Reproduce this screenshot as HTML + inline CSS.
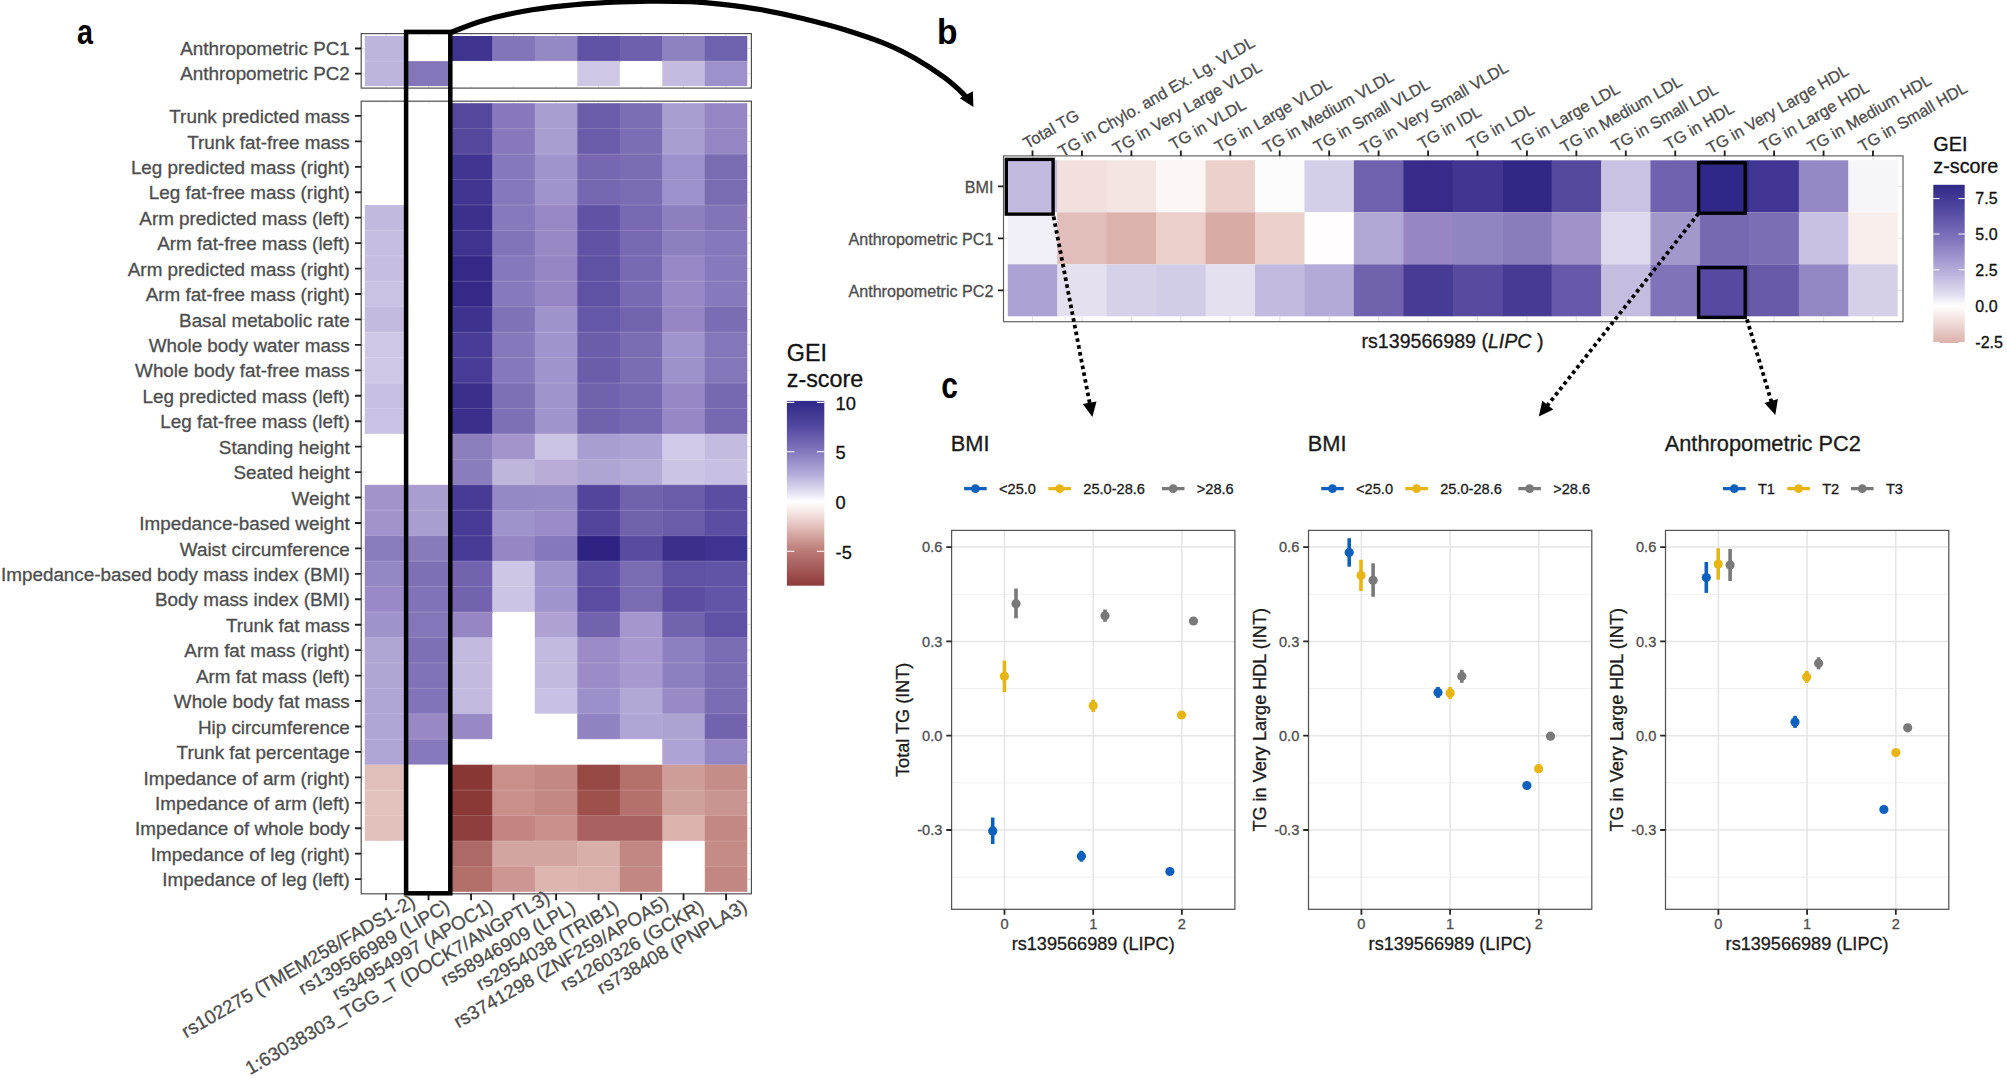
<!DOCTYPE html>
<html lang="en">
<head>
<meta charset="utf-8">
<title>GEI z-score heatmaps and stratified genotype effects</title>
<style>
html,body{margin:0;padding:0;background:#fff;}
body{width:2007px;height:1078px;overflow:hidden;}
svg{display:block;font-family:"Liberation Sans",sans-serif;}
</style>
</head>
<body>
<svg width="2007" height="1078" viewBox="0 0 2007 1078">
<rect width="2007" height="1078" fill="#fff"/>
<g id="panel-a">
<rect x="361.2" y="33.6" width="390.2" height="54.5" fill="#fff" stroke="none"/>
<path d="M386.05,33.6V36.00M386.05,86.10V88.1M428.55,33.6V36.00M428.55,86.10V88.1M471.05,33.6V36.00M471.05,86.10V88.1M513.55,33.6V36.00M513.55,86.10V88.1M556.05,33.6V36.00M556.05,86.10V88.1M598.55,33.6V36.00M598.55,86.10V88.1M641.05,33.6V36.00M641.05,86.10V88.1M683.55,33.6V36.00M683.55,86.10V88.1M726.05,33.6V36.00M726.05,86.10V88.1M361.2,48.52H364.80M747.30,48.52H751.4M361.2,73.58H364.80M747.30,73.58H751.4" stroke="#E4E4E4" stroke-width="1.1" fill="none"/>
<rect x="364.80" y="36.00" width="42.50" height="25.65" fill="#BDB5DC"/>
<rect x="449.80" y="36.00" width="43.00" height="25.05" fill="#3E348F"/>
<rect x="492.30" y="36.00" width="43.00" height="25.05" fill="#8375B8"/>
<rect x="534.80" y="36.00" width="43.00" height="25.05" fill="#9688C4"/>
<rect x="577.30" y="36.00" width="43.00" height="25.65" fill="#6053A4"/>
<rect x="619.80" y="36.00" width="43.00" height="25.05" fill="#6E60AD"/>
<rect x="662.30" y="36.00" width="43.00" height="25.65" fill="#8E81BF"/>
<rect x="704.80" y="36.00" width="42.50" height="25.65" fill="#6E61AE"/>
<rect x="364.80" y="61.05" width="43.00" height="25.05" fill="#BDB5DC"/>
<rect x="407.30" y="61.05" width="42.50" height="25.05" fill="#8575B9"/>
<rect x="577.30" y="61.05" width="42.50" height="25.05" fill="#CEC7E5"/>
<rect x="662.30" y="61.05" width="43.00" height="25.05" fill="#C4BBDF"/>
<rect x="704.80" y="61.05" width="42.50" height="25.05" fill="#9E90CA"/>
<path d="M364.80,61.05h382.50" stroke="#fff" stroke-opacity="0.16" stroke-width="1" fill="none"/>
<rect x="361.2" y="33.6" width="390.2" height="54.5" fill="none" stroke="#505050" stroke-width="1.2"/>
<rect x="361.2" y="101.2" width="390.2" height="792.6" fill="#fff" stroke="none"/>
<path d="M386.05,101.2V103.20M386.05,891.84V893.8M428.55,101.2V103.20M428.55,891.84V893.8M471.05,101.2V103.20M471.05,891.84V893.8M513.55,101.2V103.20M513.55,891.84V893.8M556.05,101.2V103.20M556.05,891.84V893.8M598.55,101.2V103.20M598.55,891.84V893.8M641.05,101.2V103.20M641.05,891.84V893.8M683.55,101.2V103.20M683.55,891.84V893.8M726.05,101.2V103.20M726.05,891.84V893.8M361.2,115.92H364.80M747.30,115.92H751.4M361.2,141.36H364.80M747.30,141.36H751.4M361.2,166.80H364.80M747.30,166.80H751.4M361.2,192.24H364.80M747.30,192.24H751.4M361.2,217.68H364.80M747.30,217.68H751.4M361.2,243.12H364.80M747.30,243.12H751.4M361.2,268.56H364.80M747.30,268.56H751.4M361.2,294.00H364.80M747.30,294.00H751.4M361.2,319.44H364.80M747.30,319.44H751.4M361.2,344.88H364.80M747.30,344.88H751.4M361.2,370.32H364.80M747.30,370.32H751.4M361.2,395.76H364.80M747.30,395.76H751.4M361.2,421.20H364.80M747.30,421.20H751.4M361.2,446.64H364.80M747.30,446.64H751.4M361.2,472.08H364.80M747.30,472.08H751.4M361.2,497.52H364.80M747.30,497.52H751.4M361.2,522.96H364.80M747.30,522.96H751.4M361.2,548.40H364.80M747.30,548.40H751.4M361.2,573.84H364.80M747.30,573.84H751.4M361.2,599.28H364.80M747.30,599.28H751.4M361.2,624.72H364.80M747.30,624.72H751.4M361.2,650.16H364.80M747.30,650.16H751.4M361.2,675.60H364.80M747.30,675.60H751.4M361.2,701.04H364.80M747.30,701.04H751.4M361.2,726.48H364.80M747.30,726.48H751.4M361.2,751.92H364.80M747.30,751.92H751.4M361.2,777.36H364.80M747.30,777.36H751.4M361.2,802.80H364.80M747.30,802.80H751.4M361.2,828.24H364.80M747.30,828.24H751.4M361.2,853.68H364.80M747.30,853.68H751.4M361.2,879.12H364.80M747.30,879.12H751.4" stroke="#E4E4E4" stroke-width="1.1" fill="none"/>
<rect x="449.80" y="103.20" width="43.00" height="26.04" fill="#54479C"/>
<rect x="492.30" y="103.20" width="43.00" height="26.04" fill="#8878BB"/>
<rect x="534.80" y="103.20" width="43.00" height="26.04" fill="#AA9DD0"/>
<rect x="577.30" y="103.20" width="43.00" height="26.04" fill="#6B5CA9"/>
<rect x="619.80" y="103.20" width="43.00" height="26.04" fill="#7C6DB4"/>
<rect x="662.30" y="103.20" width="43.00" height="26.04" fill="#AA9DD0"/>
<rect x="704.80" y="103.20" width="42.50" height="26.04" fill="#9585C3"/>
<rect x="449.80" y="128.64" width="43.00" height="26.04" fill="#54479C"/>
<rect x="492.30" y="128.64" width="43.00" height="26.04" fill="#8878BB"/>
<rect x="534.80" y="128.64" width="43.00" height="26.04" fill="#AA9DD0"/>
<rect x="577.30" y="128.64" width="43.00" height="26.04" fill="#6B5CA9"/>
<rect x="619.80" y="128.64" width="43.00" height="26.04" fill="#7C6DB4"/>
<rect x="662.30" y="128.64" width="43.00" height="26.04" fill="#AA9DD0"/>
<rect x="704.80" y="128.64" width="42.50" height="26.04" fill="#9585C3"/>
<rect x="449.80" y="154.08" width="43.00" height="26.04" fill="#403591"/>
<rect x="492.30" y="154.08" width="43.00" height="26.04" fill="#8778BB"/>
<rect x="534.80" y="154.08" width="43.00" height="26.04" fill="#A193CB"/>
<rect x="577.30" y="154.08" width="43.00" height="26.04" fill="#7767B1"/>
<rect x="619.80" y="154.08" width="43.00" height="26.04" fill="#7B6CB4"/>
<rect x="662.30" y="154.08" width="43.00" height="26.04" fill="#9E90CA"/>
<rect x="704.80" y="154.08" width="42.50" height="26.04" fill="#7A6BB3"/>
<rect x="449.80" y="179.52" width="43.00" height="26.04" fill="#403591"/>
<rect x="492.30" y="179.52" width="43.00" height="26.04" fill="#8778BB"/>
<rect x="534.80" y="179.52" width="43.00" height="26.04" fill="#A193CB"/>
<rect x="577.30" y="179.52" width="43.00" height="26.04" fill="#7767B1"/>
<rect x="619.80" y="179.52" width="43.00" height="26.04" fill="#7B6CB4"/>
<rect x="662.30" y="179.52" width="43.00" height="26.04" fill="#9E90CA"/>
<rect x="704.80" y="179.52" width="42.50" height="26.04" fill="#7A6BB3"/>
<rect x="364.80" y="204.96" width="42.50" height="26.04" fill="#C2B9DF"/>
<rect x="449.80" y="204.96" width="43.00" height="26.04" fill="#3C308D"/>
<rect x="492.30" y="204.96" width="43.00" height="26.04" fill="#8779BB"/>
<rect x="534.80" y="204.96" width="43.00" height="26.04" fill="#9888C4"/>
<rect x="577.30" y="204.96" width="43.00" height="26.04" fill="#6152A5"/>
<rect x="619.80" y="204.96" width="43.00" height="26.04" fill="#7968B2"/>
<rect x="662.30" y="204.96" width="43.00" height="26.04" fill="#8E80BF"/>
<rect x="704.80" y="204.96" width="42.50" height="26.04" fill="#8374B8"/>
<rect x="364.80" y="230.40" width="42.50" height="26.04" fill="#C6BEE2"/>
<rect x="449.80" y="230.40" width="43.00" height="26.04" fill="#3E3490"/>
<rect x="492.30" y="230.40" width="43.00" height="26.04" fill="#8373B8"/>
<rect x="534.80" y="230.40" width="43.00" height="26.04" fill="#9888C4"/>
<rect x="577.30" y="230.40" width="43.00" height="26.04" fill="#6152A5"/>
<rect x="619.80" y="230.40" width="43.00" height="26.04" fill="#7968B2"/>
<rect x="662.30" y="230.40" width="43.00" height="26.04" fill="#8E80BF"/>
<rect x="704.80" y="230.40" width="42.50" height="26.04" fill="#8778BB"/>
<rect x="364.80" y="255.84" width="42.50" height="26.04" fill="#C6BDE1"/>
<rect x="449.80" y="255.84" width="43.00" height="26.04" fill="#342987"/>
<rect x="492.30" y="255.84" width="43.00" height="26.04" fill="#8777BB"/>
<rect x="534.80" y="255.84" width="43.00" height="26.04" fill="#9586C3"/>
<rect x="577.30" y="255.84" width="43.00" height="26.04" fill="#5F51A3"/>
<rect x="619.80" y="255.84" width="43.00" height="26.04" fill="#7969B2"/>
<rect x="662.30" y="255.84" width="43.00" height="26.04" fill="#9888C6"/>
<rect x="704.80" y="255.84" width="42.50" height="26.04" fill="#8878BC"/>
<rect x="364.80" y="281.28" width="42.50" height="26.04" fill="#CAC2E3"/>
<rect x="449.80" y="281.28" width="43.00" height="26.04" fill="#342987"/>
<rect x="492.30" y="281.28" width="43.00" height="26.04" fill="#8878BC"/>
<rect x="534.80" y="281.28" width="43.00" height="26.04" fill="#9586C3"/>
<rect x="577.30" y="281.28" width="43.00" height="26.04" fill="#5F51A3"/>
<rect x="619.80" y="281.28" width="43.00" height="26.04" fill="#7969B2"/>
<rect x="662.30" y="281.28" width="43.00" height="26.04" fill="#9888C6"/>
<rect x="704.80" y="281.28" width="42.50" height="26.04" fill="#8878BC"/>
<rect x="364.80" y="306.72" width="42.50" height="26.04" fill="#C3BAE0"/>
<rect x="449.80" y="306.72" width="43.00" height="26.04" fill="#3D328E"/>
<rect x="492.30" y="306.72" width="43.00" height="26.04" fill="#8172B7"/>
<rect x="534.80" y="306.72" width="43.00" height="26.04" fill="#A092CA"/>
<rect x="577.30" y="306.72" width="43.00" height="26.04" fill="#6557A7"/>
<rect x="619.80" y="306.72" width="43.00" height="26.04" fill="#7464AF"/>
<rect x="662.30" y="306.72" width="43.00" height="26.04" fill="#9686C4"/>
<rect x="704.80" y="306.72" width="42.50" height="26.04" fill="#7B6CB4"/>
<rect x="364.80" y="332.16" width="42.50" height="26.04" fill="#CFC7E6"/>
<rect x="449.80" y="332.16" width="43.00" height="26.04" fill="#483C96"/>
<rect x="492.30" y="332.16" width="43.00" height="26.04" fill="#8778BB"/>
<rect x="534.80" y="332.16" width="43.00" height="26.04" fill="#A193CB"/>
<rect x="577.30" y="332.16" width="43.00" height="26.04" fill="#6C5DAB"/>
<rect x="619.80" y="332.16" width="43.00" height="26.04" fill="#7B6CB4"/>
<rect x="662.30" y="332.16" width="43.00" height="26.04" fill="#A193CB"/>
<rect x="704.80" y="332.16" width="42.50" height="26.04" fill="#8576BA"/>
<rect x="364.80" y="357.60" width="42.50" height="26.04" fill="#CFC7E6"/>
<rect x="449.80" y="357.60" width="43.00" height="26.04" fill="#483C96"/>
<rect x="492.30" y="357.60" width="43.00" height="26.04" fill="#8778BB"/>
<rect x="534.80" y="357.60" width="43.00" height="26.04" fill="#A193CB"/>
<rect x="577.30" y="357.60" width="43.00" height="26.04" fill="#6C5DAB"/>
<rect x="619.80" y="357.60" width="43.00" height="26.04" fill="#7B6CB4"/>
<rect x="662.30" y="357.60" width="43.00" height="26.04" fill="#9F91CA"/>
<rect x="704.80" y="357.60" width="42.50" height="26.04" fill="#8576BA"/>
<rect x="364.80" y="383.04" width="42.50" height="26.04" fill="#C8C0E3"/>
<rect x="449.80" y="383.04" width="43.00" height="26.04" fill="#3B2F8C"/>
<rect x="492.30" y="383.04" width="43.00" height="26.04" fill="#7F70B5"/>
<rect x="534.80" y="383.04" width="43.00" height="26.04" fill="#A193CB"/>
<rect x="577.30" y="383.04" width="43.00" height="26.04" fill="#7262AE"/>
<rect x="619.80" y="383.04" width="43.00" height="26.04" fill="#7868B1"/>
<rect x="662.30" y="383.04" width="43.00" height="26.04" fill="#9787C5"/>
<rect x="704.80" y="383.04" width="42.50" height="26.04" fill="#7868B1"/>
<rect x="364.80" y="408.48" width="42.50" height="25.44" fill="#CAC2E4"/>
<rect x="449.80" y="408.48" width="43.00" height="26.04" fill="#3B2F8C"/>
<rect x="492.30" y="408.48" width="43.00" height="26.04" fill="#7F70B5"/>
<rect x="534.80" y="408.48" width="43.00" height="26.04" fill="#A193CB"/>
<rect x="577.30" y="408.48" width="43.00" height="26.04" fill="#7262AE"/>
<rect x="619.80" y="408.48" width="43.00" height="26.04" fill="#7868B1"/>
<rect x="662.30" y="408.48" width="43.00" height="26.04" fill="#9787C5"/>
<rect x="704.80" y="408.48" width="42.50" height="26.04" fill="#7868B1"/>
<rect x="449.80" y="433.92" width="43.00" height="26.04" fill="#8D7EBE"/>
<rect x="492.30" y="433.92" width="43.00" height="26.04" fill="#A395CC"/>
<rect x="534.80" y="433.92" width="43.00" height="26.04" fill="#CCC4E5"/>
<rect x="577.30" y="433.92" width="43.00" height="26.04" fill="#AA9DD0"/>
<rect x="619.80" y="433.92" width="43.00" height="26.04" fill="#AEA1D3"/>
<rect x="662.30" y="433.92" width="43.00" height="26.04" fill="#D1CAE8"/>
<rect x="704.80" y="433.92" width="42.50" height="26.04" fill="#C4BCE0"/>
<rect x="449.80" y="459.36" width="43.00" height="26.04" fill="#8B7DBD"/>
<rect x="492.30" y="459.36" width="43.00" height="26.04" fill="#C0B6DC"/>
<rect x="534.80" y="459.36" width="43.00" height="26.04" fill="#B8ACD7"/>
<rect x="577.30" y="459.36" width="43.00" height="26.04" fill="#B0A4D2"/>
<rect x="619.80" y="459.36" width="43.00" height="26.04" fill="#B6AAD6"/>
<rect x="662.30" y="459.36" width="43.00" height="26.04" fill="#CBC4E4"/>
<rect x="704.80" y="459.36" width="42.50" height="26.04" fill="#C8C0E2"/>
<rect x="364.80" y="484.80" width="43.00" height="26.04" fill="#A293CB"/>
<rect x="407.30" y="484.80" width="43.00" height="26.04" fill="#AA9DD0"/>
<rect x="449.80" y="484.80" width="43.00" height="26.04" fill="#483B96"/>
<rect x="492.30" y="484.80" width="43.00" height="26.04" fill="#9688C4"/>
<rect x="534.80" y="484.80" width="43.00" height="26.04" fill="#9789C4"/>
<rect x="577.30" y="484.80" width="43.00" height="26.04" fill="#52459B"/>
<rect x="619.80" y="484.80" width="43.00" height="26.04" fill="#7262AE"/>
<rect x="662.30" y="484.80" width="43.00" height="26.04" fill="#6B5CAA"/>
<rect x="704.80" y="484.80" width="42.50" height="26.04" fill="#5B4DA2"/>
<rect x="364.80" y="510.24" width="43.00" height="26.04" fill="#A293CB"/>
<rect x="407.30" y="510.24" width="43.00" height="26.04" fill="#AA9DD0"/>
<rect x="449.80" y="510.24" width="43.00" height="26.04" fill="#483B96"/>
<rect x="492.30" y="510.24" width="43.00" height="26.04" fill="#A092CA"/>
<rect x="534.80" y="510.24" width="43.00" height="26.04" fill="#9A8BC6"/>
<rect x="577.30" y="510.24" width="43.00" height="26.04" fill="#52459B"/>
<rect x="619.80" y="510.24" width="43.00" height="26.04" fill="#7262AE"/>
<rect x="662.30" y="510.24" width="43.00" height="26.04" fill="#6B5CAA"/>
<rect x="704.80" y="510.24" width="42.50" height="26.04" fill="#5B4DA2"/>
<rect x="364.80" y="535.68" width="43.00" height="26.04" fill="#8A7BBD"/>
<rect x="407.30" y="535.68" width="43.00" height="26.04" fill="#897ABB"/>
<rect x="449.80" y="535.68" width="43.00" height="26.04" fill="#483B96"/>
<rect x="492.30" y="535.68" width="43.00" height="26.04" fill="#9687C4"/>
<rect x="534.80" y="535.68" width="43.00" height="26.04" fill="#8777BB"/>
<rect x="577.30" y="535.68" width="43.00" height="26.04" fill="#2E2382"/>
<rect x="619.80" y="535.68" width="43.00" height="26.04" fill="#594B9F"/>
<rect x="662.30" y="535.68" width="43.00" height="26.04" fill="#3B2F8B"/>
<rect x="704.80" y="535.68" width="42.50" height="26.04" fill="#3E3390"/>
<rect x="364.80" y="561.12" width="43.00" height="26.04" fill="#9586C4"/>
<rect x="407.30" y="561.12" width="43.00" height="26.04" fill="#7F70B6"/>
<rect x="449.80" y="561.12" width="43.00" height="26.04" fill="#7363AE"/>
<rect x="492.30" y="561.12" width="43.00" height="26.04" fill="#CEC6E5"/>
<rect x="534.80" y="561.12" width="43.00" height="26.04" fill="#A193CB"/>
<rect x="577.30" y="561.12" width="43.00" height="26.04" fill="#5C4EA2"/>
<rect x="619.80" y="561.12" width="43.00" height="26.04" fill="#7A6BB3"/>
<rect x="662.30" y="561.12" width="43.00" height="26.04" fill="#5F51A3"/>
<rect x="704.80" y="561.12" width="42.50" height="26.04" fill="#6254A5"/>
<rect x="364.80" y="586.56" width="43.00" height="26.04" fill="#9989C6"/>
<rect x="407.30" y="586.56" width="43.00" height="26.04" fill="#8272B8"/>
<rect x="449.80" y="586.56" width="43.00" height="26.04" fill="#7363AE"/>
<rect x="492.30" y="586.56" width="43.00" height="25.44" fill="#CCC4E4"/>
<rect x="534.80" y="586.56" width="43.00" height="26.04" fill="#A193CB"/>
<rect x="577.30" y="586.56" width="43.00" height="26.04" fill="#5B4CA2"/>
<rect x="619.80" y="586.56" width="43.00" height="26.04" fill="#7A6BB3"/>
<rect x="662.30" y="586.56" width="43.00" height="26.04" fill="#5C4DA2"/>
<rect x="704.80" y="586.56" width="42.50" height="26.04" fill="#6254A6"/>
<rect x="364.80" y="612.00" width="43.00" height="26.04" fill="#A092CA"/>
<rect x="407.30" y="612.00" width="43.00" height="26.04" fill="#8575B9"/>
<rect x="449.80" y="612.00" width="42.50" height="26.04" fill="#9686C4"/>
<rect x="534.80" y="612.00" width="43.00" height="26.04" fill="#AFA2D3"/>
<rect x="577.30" y="612.00" width="43.00" height="26.04" fill="#7363AE"/>
<rect x="619.80" y="612.00" width="43.00" height="26.04" fill="#A597CE"/>
<rect x="662.30" y="612.00" width="43.00" height="26.04" fill="#7263AF"/>
<rect x="704.80" y="612.00" width="42.50" height="26.04" fill="#5F51A4"/>
<rect x="364.80" y="637.44" width="43.00" height="26.04" fill="#B1A5D4"/>
<rect x="407.30" y="637.44" width="43.00" height="26.04" fill="#7F70B6"/>
<rect x="449.80" y="637.44" width="42.50" height="26.04" fill="#C3BADF"/>
<rect x="534.80" y="637.44" width="43.00" height="26.04" fill="#C3BADF"/>
<rect x="577.30" y="637.44" width="43.00" height="26.04" fill="#9B8CC7"/>
<rect x="619.80" y="637.44" width="43.00" height="26.04" fill="#A799CF"/>
<rect x="662.30" y="637.44" width="43.00" height="26.04" fill="#8E80C0"/>
<rect x="704.80" y="637.44" width="42.50" height="26.04" fill="#7B6CB4"/>
<rect x="364.80" y="662.88" width="43.00" height="26.04" fill="#B1A5D4"/>
<rect x="407.30" y="662.88" width="43.00" height="26.04" fill="#8272B8"/>
<rect x="449.80" y="662.88" width="42.50" height="26.04" fill="#C3BADF"/>
<rect x="534.80" y="662.88" width="43.00" height="26.04" fill="#C3BADF"/>
<rect x="577.30" y="662.88" width="43.00" height="26.04" fill="#9B8CC7"/>
<rect x="619.80" y="662.88" width="43.00" height="26.04" fill="#A799CF"/>
<rect x="662.30" y="662.88" width="43.00" height="26.04" fill="#8E80C0"/>
<rect x="704.80" y="662.88" width="42.50" height="26.04" fill="#7B6CB4"/>
<rect x="364.80" y="688.32" width="43.00" height="26.04" fill="#B1A5D5"/>
<rect x="407.30" y="688.32" width="43.00" height="26.04" fill="#8373B8"/>
<rect x="449.80" y="688.32" width="42.50" height="26.04" fill="#C3BADF"/>
<rect x="534.80" y="688.32" width="43.00" height="25.44" fill="#C9C1E3"/>
<rect x="577.30" y="688.32" width="43.00" height="26.04" fill="#9D8FC9"/>
<rect x="619.80" y="688.32" width="43.00" height="26.04" fill="#B3A7D5"/>
<rect x="662.30" y="688.32" width="43.00" height="26.04" fill="#998AC6"/>
<rect x="704.80" y="688.32" width="42.50" height="26.04" fill="#7B6CB4"/>
<rect x="364.80" y="713.76" width="43.00" height="26.04" fill="#B1A5D5"/>
<rect x="407.30" y="713.76" width="43.00" height="26.04" fill="#9889C5"/>
<rect x="449.80" y="713.76" width="42.50" height="25.44" fill="#9889C5"/>
<rect x="577.30" y="713.76" width="43.00" height="25.44" fill="#9183C2"/>
<rect x="619.80" y="713.76" width="43.00" height="25.44" fill="#B1A5D5"/>
<rect x="662.30" y="713.76" width="43.00" height="26.04" fill="#AEA2D3"/>
<rect x="704.80" y="713.76" width="42.50" height="26.04" fill="#7263AF"/>
<rect x="364.80" y="739.20" width="43.00" height="26.04" fill="#B1A5D5"/>
<rect x="407.30" y="739.20" width="42.50" height="25.44" fill="#8878BC"/>
<rect x="662.30" y="739.20" width="43.00" height="26.04" fill="#AFA3D6"/>
<rect x="704.80" y="739.20" width="42.50" height="26.04" fill="#9485C4"/>
<rect x="364.80" y="764.64" width="42.50" height="26.04" fill="#E0BEBA"/>
<rect x="449.80" y="764.64" width="43.00" height="26.04" fill="#893735"/>
<rect x="492.30" y="764.64" width="43.00" height="26.04" fill="#C98F8A"/>
<rect x="534.80" y="764.64" width="43.00" height="26.04" fill="#C38883"/>
<rect x="577.30" y="764.64" width="43.00" height="26.04" fill="#964845"/>
<rect x="619.80" y="764.64" width="43.00" height="26.04" fill="#B4706B"/>
<rect x="662.30" y="764.64" width="43.00" height="26.04" fill="#CE9D98"/>
<rect x="704.80" y="764.64" width="42.50" height="26.04" fill="#C58D88"/>
<rect x="364.80" y="790.08" width="42.50" height="26.04" fill="#E3C2BE"/>
<rect x="449.80" y="790.08" width="43.00" height="26.04" fill="#8B3937"/>
<rect x="492.30" y="790.08" width="43.00" height="26.04" fill="#C98F8A"/>
<rect x="534.80" y="790.08" width="43.00" height="26.04" fill="#C38883"/>
<rect x="577.30" y="790.08" width="43.00" height="26.04" fill="#9E504D"/>
<rect x="619.80" y="790.08" width="43.00" height="26.04" fill="#B4706B"/>
<rect x="662.30" y="790.08" width="43.00" height="26.04" fill="#D0A09B"/>
<rect x="704.80" y="790.08" width="42.50" height="26.04" fill="#C99590"/>
<rect x="364.80" y="815.52" width="42.50" height="25.44" fill="#E2C0BC"/>
<rect x="449.80" y="815.52" width="43.00" height="26.04" fill="#8E3E3C"/>
<rect x="492.30" y="815.52" width="43.00" height="26.04" fill="#C28581"/>
<rect x="534.80" y="815.52" width="43.00" height="26.04" fill="#C9908B"/>
<rect x="577.30" y="815.52" width="43.00" height="26.04" fill="#A9625F"/>
<rect x="619.80" y="815.52" width="43.00" height="26.04" fill="#A9625F"/>
<rect x="662.30" y="815.52" width="43.00" height="25.44" fill="#DBB3AE"/>
<rect x="704.80" y="815.52" width="42.50" height="26.04" fill="#C38883"/>
<rect x="449.80" y="840.96" width="43.00" height="26.04" fill="#AE6865"/>
<rect x="492.30" y="840.96" width="43.00" height="26.04" fill="#D3A5A0"/>
<rect x="534.80" y="840.96" width="43.00" height="26.04" fill="#D3A5A0"/>
<rect x="577.30" y="840.96" width="43.00" height="26.04" fill="#D9AFAA"/>
<rect x="619.80" y="840.96" width="42.50" height="26.04" fill="#C38783"/>
<rect x="704.80" y="840.96" width="42.50" height="26.04" fill="#C58B86"/>
<rect x="449.80" y="866.40" width="43.00" height="25.44" fill="#B3706B"/>
<rect x="492.30" y="866.40" width="43.00" height="25.44" fill="#CC9792"/>
<rect x="534.80" y="866.40" width="43.00" height="25.44" fill="#DDB6B1"/>
<rect x="577.30" y="866.40" width="43.00" height="25.44" fill="#DBB3AE"/>
<rect x="619.80" y="866.40" width="42.50" height="25.44" fill="#C38783"/>
<rect x="704.80" y="866.40" width="42.50" height="25.44" fill="#C38783"/>
<path d="M364.80,128.64h382.50M364.80,154.08h382.50M364.80,179.52h382.50M364.80,204.96h382.50M364.80,230.40h382.50M364.80,255.84h382.50M364.80,281.28h382.50M364.80,306.72h382.50M364.80,332.16h382.50M364.80,357.60h382.50M364.80,383.04h382.50M364.80,408.48h382.50M364.80,433.92h382.50M364.80,459.36h382.50M364.80,484.80h382.50M364.80,510.24h382.50M364.80,535.68h382.50M364.80,561.12h382.50M364.80,586.56h382.50M364.80,612.00h382.50M364.80,637.44h382.50M364.80,662.88h382.50M364.80,688.32h382.50M364.80,713.76h382.50M364.80,739.20h382.50M364.80,764.64h382.50M364.80,790.08h382.50M364.80,815.52h382.50M364.80,840.96h382.50M364.80,866.40h382.50" stroke="#fff" stroke-opacity="0.17" stroke-width="1" fill="none"/>
<rect x="361.2" y="101.2" width="390.2" height="792.6" fill="none" stroke="#505050" stroke-width="1.2"/>
<g font-size="18.85" fill="#4D4D4D" stroke="#4D4D4D" stroke-width="0.3" text-anchor="end">
<text x="349.8" y="54.87">Anthropometric PC1</text>
<text x="349.8" y="79.92">Anthropometric PC2</text>
<text x="349.8" y="123.07">Trunk predicted mass</text>
<text x="349.8" y="148.51">Trunk fat-free mass</text>
<text x="349.8" y="173.95">Leg predicted mass (right)</text>
<text x="349.8" y="199.39">Leg fat-free mass (right)</text>
<text x="349.8" y="224.83">Arm predicted mass (left)</text>
<text x="349.8" y="250.27">Arm fat-free mass (left)</text>
<text x="349.8" y="275.71">Arm predicted mass (right)</text>
<text x="349.8" y="301.15">Arm fat-free mass (right)</text>
<text x="349.8" y="326.59">Basal metabolic rate</text>
<text x="349.8" y="352.03">Whole body water mass</text>
<text x="349.8" y="377.47">Whole body fat-free mass</text>
<text x="349.8" y="402.91">Leg predicted mass (left)</text>
<text x="349.8" y="428.35">Leg fat-free mass (left)</text>
<text x="349.8" y="453.79">Standing height</text>
<text x="349.8" y="479.23">Seated height</text>
<text x="349.8" y="504.67">Weight</text>
<text x="349.8" y="530.11">Impedance-based weight</text>
<text x="349.8" y="555.55">Waist circumference</text>
<text x="349.8" y="580.99">Impedance-based body mass index (BMI)</text>
<text x="349.8" y="606.43">Body mass index (BMI)</text>
<text x="349.8" y="631.87">Trunk fat mass</text>
<text x="349.8" y="657.31">Arm fat mass (right)</text>
<text x="349.8" y="682.75">Arm fat mass (left)</text>
<text x="349.8" y="708.19">Whole body fat mass</text>
<text x="349.8" y="733.63">Hip circumference</text>
<text x="349.8" y="759.07">Trunk fat percentage</text>
<text x="349.8" y="784.51">Impedance of arm (right)</text>
<text x="349.8" y="809.95">Impedance of arm (left)</text>
<text x="349.8" y="835.39">Impedance of whole body</text>
<text x="349.8" y="860.83">Impedance of leg (right)</text>
<text x="349.8" y="886.27">Impedance of leg (left)</text>
</g>
<path d="M355,48.52H361.2M355,73.58H361.2M355,115.92H361.2M355,141.36H361.2M355,166.80H361.2M355,192.24H361.2M355,217.68H361.2M355,243.12H361.2M355,268.56H361.2M355,294.00H361.2M355,319.44H361.2M355,344.88H361.2M355,370.32H361.2M355,395.76H361.2M355,421.20H361.2M355,446.64H361.2M355,472.08H361.2M355,497.52H361.2M355,522.96H361.2M355,548.40H361.2M355,573.84H361.2M355,599.28H361.2M355,624.72H361.2M355,650.16H361.2M355,675.60H361.2M355,701.04H361.2M355,726.48H361.2M355,751.92H361.2M355,777.36H361.2M355,802.80H361.2M355,828.24H361.2M355,853.68H361.2M355,879.12H361.2M386.05,893.8V900.3M428.55,893.8V900.3M471.05,893.8V900.3M513.55,893.8V900.3M556.05,893.8V900.3M598.55,893.8V900.3M641.05,893.8V900.3M683.55,893.8V900.3M726.05,893.8V900.3" stroke="#1f1f1f" stroke-width="1.85" fill="none"/>
<g font-size="18.95" fill="#4D4D4D" stroke="#4D4D4D" stroke-width="0.3">
<text transform="translate(393.85,918.60) rotate(-30)" x="-239.81" y="0">rs102275 (TMEM258/FADS1-2)</text>
<text transform="translate(436.35,918.60) rotate(-30)" x="-153.59" y="0">rs139566989 (LIPC)</text>
<text transform="translate(478.85,918.60) rotate(-30)" x="-164.01" y="0">rs34954997 (APOC1)</text>
<text transform="translate(521.35,918.60) rotate(-30)" x="-313.45" y="0">1:63038303_TGG_T (DOCK7/ANGPTL3)</text>
<text transform="translate(563.85,918.60) rotate(-30)" x="-136.53" y="0">rs58946909 (LPL)</text>
<text transform="translate(606.35,918.60) rotate(-30)" x="-145.04" y="0">rs2954038 (TRIB1)</text>
<text transform="translate(648.85,918.60) rotate(-30)" x="-219.93" y="0">rs3741298 (ZNF259/APOA5)</text>
<text transform="translate(691.35,918.60) rotate(-30)" x="-145.98" y="0">rs1260326 (GCKR)</text>
<text transform="translate(733.85,918.60) rotate(-30)" x="-152.63" y="0">rs738408 (PNPLA3)</text>
</g>
<rect x="406.1" y="31.9" width="44.2" height="861.4" fill="none" stroke="#000" stroke-width="4.5"/>
<defs><linearGradient id="ga" x1="0" y1="0" x2="0" y2="1"><stop offset="0" stop-color="#2F2886"/><stop offset="0.135" stop-color="#5247A0"/><stop offset="0.27" stop-color="#8276BC"/><stop offset="0.40" stop-color="#B5ADDA"/><stop offset="0.50" stop-color="#E6E3F3"/><stop offset="0.545" stop-color="#FFFFFF"/><stop offset="0.60" stop-color="#F6E8E6"/><stop offset="0.68" stop-color="#E3BFBB"/><stop offset="0.81" stop-color="#BC7B77"/><stop offset="1" stop-color="#8E3B3A"/></linearGradient></defs>
<rect x="786.9" y="400.9" width="37.4" height="184.8" fill="url(#ga)"/>
<path d="M786.9,402.4h7.5M824.3,402.4h-7.5M786.9,451.8h7.5M824.3,451.8h-7.5M786.9,501.7h7.5M824.3,501.7h-7.5M786.9,551.3h7.5M824.3,551.3h-7.5" stroke="#fff" stroke-width="1.1" fill="none"/>
<g font-size="23.3" fill="#111" stroke="#111" stroke-width="0.3"><text x="786.8" y="360.8">GEI</text><text x="786.8" y="387.2">z-score</text></g>
<g font-size="18.3" fill="#111" stroke="#111" stroke-width="0.3">
<text x="835.6" y="409.7">10</text>
<text x="835.6" y="459.1">5</text>
<text x="835.6" y="509.0">0</text>
<text x="835.6" y="558.6">-5</text>
</g>
<text transform="translate(76.9,44.4) scale(0.81,1)" font-size="35.5" font-weight="bold" fill="#000">a</text>
</g>
<path d="M451.5,32.2C456.6,30.3 469.9,24.4 481.9,20.9C493.9,17.4 509.8,13.8 523.7,11.2C537.7,8.6 551.7,7.0 565.6,5.6C579.5,4.1 593.5,3.2 607.4,2.5C621.3,1.8 635.3,1.2 649.3,1.1C663.2,1.0 679.3,1.2 691.1,1.7C702.9,2.2 708.2,2.7 720.0,4.1C731.8,5.5 747.9,7.4 761.9,9.8C775.9,12.2 789.8,15.4 803.7,18.8C817.7,22.2 831.7,25.7 845.6,30.0C859.5,34.3 875.8,39.8 887.4,44.6C899.0,49.4 906.0,53.2 915.3,58.6C924.6,64.0 935.8,71.4 943.2,76.7C950.7,82.0 956.1,87.2 960.0,90.7C963.9,94.2 965.4,96.4 966.5,97.5" fill="none" stroke="#000" stroke-width="5.2"/>
<path d="M973.4,107 L959.8,98.3 L972.9,91.2 Z" fill="#000"/>
<g id="panel-b">
<rect x="1003.5" y="155.9" width="899.5" height="165.8" fill="#fff" stroke="none"/>
<path d="M1032.52,155.9V160.30M1032.52,316.30V321.7M1081.96,155.9V160.30M1081.96,316.30V321.7M1131.40,155.9V160.30M1131.40,316.30V321.7M1180.84,155.9V160.30M1180.84,316.30V321.7M1230.28,155.9V160.30M1230.28,316.30V321.7M1279.72,155.9V160.30M1279.72,316.30V321.7M1329.16,155.9V160.30M1329.16,316.30V321.7M1378.60,155.9V160.30M1378.60,316.30V321.7M1428.04,155.9V160.30M1428.04,316.30V321.7M1477.48,155.9V160.30M1477.48,316.30V321.7M1526.92,155.9V160.30M1526.92,316.30V321.7M1576.36,155.9V160.30M1576.36,316.30V321.7M1625.80,155.9V160.30M1625.80,316.30V321.7M1675.24,155.9V160.30M1675.24,316.30V321.7M1724.68,155.9V160.30M1724.68,316.30V321.7M1774.12,155.9V160.30M1774.12,316.30V321.7M1823.56,155.9V160.30M1823.56,316.30V321.7M1873.00,155.9V160.30M1873.00,316.30V321.7M1003.5,186.30H1007.80M1897.72,186.30H1903.0M1003.5,238.30H1007.80M1897.72,238.30H1903.0M1003.5,290.30H1007.80M1897.72,290.30H1903.0" stroke="#E4E4E4" stroke-width="1.1" fill="none"/>
<rect x="1007.80" y="160.30" width="49.94" height="52.00" fill="#C2BADF"/>
<rect x="1057.24" y="160.30" width="49.94" height="52.00" fill="#F2E0DE"/>
<rect x="1106.68" y="160.30" width="49.94" height="52.00" fill="#F4E5E3"/>
<rect x="1156.12" y="160.30" width="49.94" height="52.00" fill="#FCF6F5"/>
<rect x="1205.56" y="160.30" width="49.94" height="52.00" fill="#EBD0CC"/>
<rect x="1255.00" y="160.30" width="49.94" height="52.00" fill="#FDFCFD"/>
<rect x="1304.44" y="160.30" width="49.94" height="52.00" fill="#D4CFE8"/>
<rect x="1353.88" y="160.30" width="49.94" height="52.00" fill="#6F61AD"/>
<rect x="1403.32" y="160.30" width="49.94" height="52.00" fill="#372C89"/>
<rect x="1452.76" y="160.30" width="49.94" height="52.00" fill="#403691"/>
<rect x="1502.20" y="160.30" width="49.94" height="52.00" fill="#312785"/>
<rect x="1551.64" y="160.30" width="49.94" height="52.00" fill="#55499E"/>
<rect x="1601.08" y="160.30" width="49.94" height="52.00" fill="#C9C2E2"/>
<rect x="1650.52" y="160.30" width="49.94" height="52.00" fill="#7161AE"/>
<rect x="1699.96" y="160.30" width="49.94" height="52.00" fill="#302889"/>
<rect x="1749.40" y="160.30" width="49.94" height="52.00" fill="#413693"/>
<rect x="1798.84" y="160.30" width="49.94" height="52.00" fill="#9688C4"/>
<rect x="1848.28" y="160.30" width="49.44" height="52.00" fill="#F6F5FA"/>
<rect x="1007.80" y="212.30" width="49.94" height="52.00" fill="#F1EFF7"/>
<rect x="1057.24" y="212.30" width="49.94" height="52.00" fill="#E2BEBA"/>
<rect x="1106.68" y="212.30" width="49.94" height="52.00" fill="#DCB2AD"/>
<rect x="1156.12" y="212.30" width="49.94" height="52.00" fill="#EACFCB"/>
<rect x="1205.56" y="212.30" width="49.94" height="52.00" fill="#D8ABA5"/>
<rect x="1255.00" y="212.30" width="49.94" height="52.00" fill="#EACFCB"/>
<rect x="1304.44" y="212.30" width="49.94" height="52.00" fill="#FFFDFD"/>
<rect x="1353.88" y="212.30" width="49.94" height="52.00" fill="#B1A7D5"/>
<rect x="1403.32" y="212.30" width="49.94" height="52.00" fill="#9687C3"/>
<rect x="1452.76" y="212.30" width="49.94" height="52.00" fill="#9284C1"/>
<rect x="1502.20" y="212.30" width="49.94" height="52.00" fill="#8B7DBC"/>
<rect x="1551.64" y="212.30" width="49.94" height="52.00" fill="#A193CA"/>
<rect x="1601.08" y="212.30" width="49.94" height="52.00" fill="#DDD8EC"/>
<rect x="1650.52" y="212.30" width="49.94" height="52.00" fill="#A497CC"/>
<rect x="1699.96" y="212.30" width="49.94" height="52.00" fill="#7868B2"/>
<rect x="1749.40" y="212.30" width="49.94" height="52.00" fill="#7C6DB4"/>
<rect x="1798.84" y="212.30" width="49.94" height="52.00" fill="#C8C1E2"/>
<rect x="1848.28" y="212.30" width="49.44" height="52.00" fill="#F8EEEC"/>
<rect x="1007.80" y="264.30" width="49.94" height="52.00" fill="#AEA2D4"/>
<rect x="1057.24" y="264.30" width="49.94" height="52.00" fill="#E4E0F0"/>
<rect x="1106.68" y="264.30" width="49.94" height="52.00" fill="#D6D0E8"/>
<rect x="1156.12" y="264.30" width="49.94" height="52.00" fill="#D2CDE6"/>
<rect x="1205.56" y="264.30" width="49.94" height="52.00" fill="#E4E0F0"/>
<rect x="1255.00" y="264.30" width="49.94" height="52.00" fill="#C3BBDF"/>
<rect x="1304.44" y="264.30" width="49.94" height="52.00" fill="#B4AAD7"/>
<rect x="1353.88" y="264.30" width="49.94" height="52.00" fill="#7262AE"/>
<rect x="1403.32" y="264.30" width="49.94" height="52.00" fill="#483B95"/>
<rect x="1452.76" y="264.30" width="49.94" height="52.00" fill="#584A9F"/>
<rect x="1502.20" y="264.30" width="49.94" height="52.00" fill="#473A95"/>
<rect x="1551.64" y="264.30" width="49.94" height="52.00" fill="#6858A9"/>
<rect x="1601.08" y="264.30" width="49.94" height="52.00" fill="#C5BDE0"/>
<rect x="1650.52" y="264.30" width="49.94" height="52.00" fill="#8273B8"/>
<rect x="1699.96" y="264.30" width="49.94" height="52.00" fill="#5748A0"/>
<rect x="1749.40" y="264.30" width="49.94" height="52.00" fill="#6859A9"/>
<rect x="1798.84" y="264.30" width="49.94" height="52.00" fill="#9587C3"/>
<rect x="1848.28" y="264.30" width="49.44" height="52.00" fill="#D5CFE8"/>
<rect x="1003.5" y="155.9" width="899.5" height="165.8" fill="none" stroke="#5c5c5c" stroke-width="1.15"/>
<g font-size="16.1" fill="#4D4D4D" stroke="#4D4D4D" stroke-width="0.3" text-anchor="end">
<text x="993.4" y="192.76">BMI</text>
<text x="993.4" y="244.76">Anthropometric PC1</text>
<text x="993.4" y="296.76">Anthropometric PC2</text>
</g>
<path d="M998,186.30H1003.5M998,238.30H1003.5M998,290.30H1003.5M1032.52,155.9V150.4M1081.96,155.9V150.4M1131.40,155.9V150.4M1180.84,155.9V150.4M1230.28,155.9V150.4M1279.72,155.9V150.4M1329.16,155.9V150.4M1378.60,155.9V150.4M1428.04,155.9V150.4M1477.48,155.9V150.4M1526.92,155.9V150.4M1576.36,155.9V150.4M1625.80,155.9V150.4M1675.24,155.9V150.4M1724.68,155.9V150.4M1774.12,155.9V150.4M1823.56,155.9V150.4M1873.00,155.9V150.4" stroke="#1f1f1f" stroke-width="1.85" fill="none"/>
<g font-size="16.35" fill="#4D4D4D" stroke="#4D4D4D" stroke-width="0.3">
<text transform="translate(1032.52,146.30) rotate(-30)" x="-6.15" y="0">Total TG</text>
<text transform="translate(1081.96,146.30) rotate(-30)" x="-22.36" y="0">TG in Chylo. and Ex. Lg. VLDL</text>
<text transform="translate(1131.40,146.30) rotate(-30)" x="-16.90" y="0">TG in Very Large VLDL</text>
<text transform="translate(1180.84,146.30) rotate(-30)" x="-8.54" y="0">TG in VLDL</text>
<text transform="translate(1230.28,146.30) rotate(-30)" x="-13.18" y="0">TG in Large VLDL</text>
<text transform="translate(1279.72,146.30) rotate(-30)" x="-14.81" y="0">TG in Medium VLDL</text>
<text transform="translate(1329.16,146.30) rotate(-30)" x="-13.08" y="0">TG in Small VLDL</text>
<text transform="translate(1378.60,146.30) rotate(-30)" x="-16.81" y="0">TG in Very Small VLDL</text>
<text transform="translate(1428.04,146.30) rotate(-30)" x="-7.00" y="0">TG in IDL</text>
<text transform="translate(1477.48,146.30) rotate(-30)" x="-7.45" y="0">TG in LDL</text>
<text transform="translate(1526.92,146.30) rotate(-30)" x="-12.09" y="0">TG in Large LDL</text>
<text transform="translate(1576.36,146.30) rotate(-30)" x="-13.72" y="0">TG in Medium LDL</text>
<text transform="translate(1625.80,146.30) rotate(-30)" x="-11.99" y="0">TG in Small LDL</text>
<text transform="translate(1675.24,146.30) rotate(-30)" x="-7.72" y="0">TG in HDL</text>
<text transform="translate(1724.68,146.30) rotate(-30)" x="-16.08" y="0">TG in Very Large HDL</text>
<text transform="translate(1774.12,146.30) rotate(-30)" x="-12.36" y="0">TG in Large HDL</text>
<text transform="translate(1823.56,146.30) rotate(-30)" x="-13.99" y="0">TG in Medium HDL</text>
<text transform="translate(1873.00,146.30) rotate(-30)" x="-12.26" y="0">TG in Small HDL</text>
</g>
<g fill="none" stroke="#000" stroke-width="3.4">
<rect x="1006.3" y="159.4" width="46.8" height="54.7"/>
<rect x="1698.6" y="162.8" width="46.6" height="50.4"/>
<rect x="1698.6" y="267.6" width="46.6" height="49.8"/>
</g>
<text x="1452.5" y="348" font-size="19.6" fill="#1a1a1a" stroke="#1a1a1a" stroke-width="0.3" text-anchor="middle">rs139566989 (<tspan font-style="italic">LIPC</tspan> )</text>
<defs><linearGradient id="gb" x1="0" y1="0" x2="0" y2="1"><stop offset="0" stop-color="#2F2886"/><stop offset="0.19" stop-color="#5A4FA5"/><stop offset="0.38" stop-color="#8A7EC1"/><stop offset="0.57" stop-color="#BDB5DE"/><stop offset="0.70" stop-color="#E4E1F2"/><stop offset="0.765" stop-color="#FFFFFF"/><stop offset="0.84" stop-color="#F5E6E4"/><stop offset="1" stop-color="#DCB0AB"/></linearGradient></defs>
<rect x="1933.3" y="184.8" width="31.4" height="158.2" fill="url(#gb)"/>
<path d="M1933.3,198.6h6.3M1964.7,198.6h-6.3M1933.3,234.0h6.3M1964.7,234.0h-6.3M1933.3,269.8h6.3M1964.7,269.8h-6.3M1933.3,305.8h6.3M1964.7,305.8h-6.3M1933.3,342.4h6.3M1964.7,342.4h-6.3" stroke="#fff" stroke-width="1" fill="none"/>
<g font-size="19.8" fill="#111" stroke="#111" stroke-width="0.3"><text x="1933.3" y="151.4">GEI</text><text x="1933.3" y="173.4">z-score</text></g>
<g font-size="16" fill="#111" stroke="#111" stroke-width="0.3">
<text x="1975.3" y="204.4">7.5</text>
<text x="1975.3" y="239.8">5.0</text>
<text x="1975.3" y="275.6">2.5</text>
<text x="1975.3" y="311.6">0.0</text>
<text x="1975.3" y="348.2">-2.5</text>
</g>
<text transform="translate(937.0,43.6) scale(0.96,1)" font-size="35" font-weight="bold" fill="#000">b</text>
</g>
<path d="M1053.6,216.5L1089.8,403.7" stroke="#000" stroke-width="3.8" stroke-dasharray="3.6 3.3" fill="none"/>
<path d="M1092.4,417.0L1082.8,404.1L1096.5,401.4Z" fill="#000"/>
<path d="M1698.5,213.5L1547.1,405.9" stroke="#000" stroke-width="3.8" stroke-dasharray="3.6 3.3" fill="none"/>
<path d="M1538.8,416.5L1542.3,400.8L1553.3,409.4Z" fill="#000"/>
<path d="M1747.0,319.4L1771.5,402.1" stroke="#000" stroke-width="3.8" stroke-dasharray="3.6 3.3" fill="none"/>
<path d="M1775.3,415.0L1764.5,403.1L1777.9,399.1Z" fill="#000"/>
<g id="panel-c">
<text transform="translate(941.3,397.5) scale(0.825,1)" font-size="36.3" font-weight="bold" fill="#000">c</text>
<rect x="951.6" y="530.4" width="283.3" height="378.9" fill="#fff"/>
<path d="M951.6,594.27h283.3M951.6,688.56h283.3M951.6,782.85h283.3M951.6,877.13h283.3" stroke="#EFEFEF" stroke-width="0.9" fill="none"/>
<path d="M951.6,547.12h283.3M951.6,641.41h283.3M951.6,735.70h283.3M951.6,829.99h283.3M1004.50,530.4V909.3M1093.20,530.4V909.3M1181.90,530.4V909.3" stroke="#E5E5E5" stroke-width="1.5" fill="none"/>
<path d="M1016.0,588.6V618.3" stroke="#797979" stroke-width="3.6" fill="none"/>
<circle cx="1016.0" cy="603.7" r="4.6" fill="#797979"/>
<path d="M1105.0,609.5V621.8" stroke="#797979" stroke-width="3.6" fill="none"/>
<circle cx="1105.0" cy="615.8" r="4.6" fill="#797979"/>
<circle cx="1193.5" cy="621.0" r="4.6" fill="#797979"/>
<path d="M1004.4,660.6V692.0" stroke="#E9B514" stroke-width="3.6" fill="none"/>
<circle cx="1004.4" cy="676.3" r="4.6" fill="#E9B514"/>
<path d="M1093.2,699.6V712.0" stroke="#E9B514" stroke-width="3.6" fill="none"/>
<circle cx="1093.2" cy="705.8" r="4.6" fill="#E9B514"/>
<circle cx="1181.6" cy="715.0" r="4.6" fill="#E9B514"/>
<path d="M992.7,817.5V844.0" stroke="#0E60BE" stroke-width="3.6" fill="none"/>
<circle cx="992.7" cy="830.9" r="4.6" fill="#0E60BE"/>
<path d="M1081.4,850.7V861.7" stroke="#0E60BE" stroke-width="3.6" fill="none"/>
<circle cx="1081.4" cy="856.2" r="4.6" fill="#0E60BE"/>
<circle cx="1169.9" cy="871.5" r="4.6" fill="#0E60BE"/>
<rect x="951.6" y="530.4" width="283.3" height="378.9" fill="none" stroke="#555" stroke-width="1.25"/>
<path d="M946.3000000000001,547.12h5.3M946.3000000000001,641.41h5.3M946.3000000000001,735.70h5.3M946.3000000000001,829.99h5.3M1004.50,909.3v5.4M1093.20,909.3v5.4M1181.90,909.3v5.4" stroke="#262626" stroke-width="1.8" fill="none"/>
<g font-size="14.6" fill="#4D4D4D" stroke="#4D4D4D" stroke-width="0.3">
<text x="942.4" y="552.42" text-anchor="end">0.6</text>
<text x="942.4" y="646.71" text-anchor="end">0.3</text>
<text x="942.4" y="741.00" text-anchor="end">0.0</text>
<text x="942.4" y="835.29" text-anchor="end">-0.3</text>
<text x="1004.50" y="929.2" text-anchor="middle">0</text>
<text x="1093.20" y="929.2" text-anchor="middle">1</text>
<text x="1181.90" y="929.2" text-anchor="middle">2</text>
</g>
<text x="1093.2" y="949.9" font-size="18.1" fill="#1a1a1a" stroke="#1a1a1a" stroke-width="0.3" text-anchor="middle">rs139566989 (LIPC)</text>
<text transform="translate(909.3,719.8) rotate(-90)" font-size="18.1" fill="#1a1a1a" stroke="#1a1a1a" stroke-width="0.3" text-anchor="middle">Total TG (INT)</text>
<text x="950.8" y="451.0" font-size="21.8" fill="#1a1a1a" stroke="#1a1a1a" stroke-width="0.3">BMI</text>
<path d="M964.1,488.6h22.6" stroke="#0E60BE" stroke-width="3.3" fill="none"/>
<circle cx="975.4" cy="488.6" r="4.4" fill="#0E60BE"/>
<text x="999.0" y="493.9" font-size="14.6" fill="#1a1a1a" stroke="#1a1a1a" stroke-width="0.3">&lt;25.0</text>
<path d="M1048.4,488.6h22.6" stroke="#E9B514" stroke-width="3.3" fill="none"/>
<circle cx="1059.7" cy="488.6" r="4.4" fill="#E9B514"/>
<text x="1083.3" y="493.9" font-size="14.6" fill="#1a1a1a" stroke="#1a1a1a" stroke-width="0.3">25.0-28.6</text>
<path d="M1161.9,488.6h22.6" stroke="#797979" stroke-width="3.3" fill="none"/>
<circle cx="1173.2" cy="488.6" r="4.4" fill="#797979"/>
<text x="1196.8" y="493.9" font-size="14.6" fill="#1a1a1a" stroke="#1a1a1a" stroke-width="0.3">&gt;28.6</text>
<rect x="1308.5" y="530.4" width="283.3" height="378.9" fill="#fff"/>
<path d="M1308.5,594.27h283.3M1308.5,688.56h283.3M1308.5,782.85h283.3M1308.5,877.13h283.3" stroke="#EFEFEF" stroke-width="0.9" fill="none"/>
<path d="M1308.5,547.12h283.3M1308.5,641.41h283.3M1308.5,735.70h283.3M1308.5,829.99h283.3M1361.40,530.4V909.3M1450.10,530.4V909.3M1538.80,530.4V909.3" stroke="#E5E5E5" stroke-width="1.5" fill="none"/>
<path d="M1349.2,538.2V566.7" stroke="#0E60BE" stroke-width="3.6" fill="none"/>
<circle cx="1349.2" cy="552.4" r="4.6" fill="#0E60BE"/>
<path d="M1361.0,559.8V591.1" stroke="#E9B514" stroke-width="3.6" fill="none"/>
<circle cx="1361.0" cy="575.5" r="4.6" fill="#E9B514"/>
<path d="M1373.1,563.3V596.8" stroke="#797979" stroke-width="3.6" fill="none"/>
<circle cx="1373.1" cy="580.3" r="4.6" fill="#797979"/>
<path d="M1438.0,686.9V697.9" stroke="#0E60BE" stroke-width="3.6" fill="none"/>
<circle cx="1438.0" cy="692.4" r="4.6" fill="#0E60BE"/>
<path d="M1450.1,687.0V699.0" stroke="#E9B514" stroke-width="3.6" fill="none"/>
<circle cx="1450.1" cy="693.0" r="4.6" fill="#E9B514"/>
<path d="M1461.8,669.8V682.8" stroke="#797979" stroke-width="3.6" fill="none"/>
<circle cx="1461.8" cy="676.3" r="4.6" fill="#797979"/>
<circle cx="1526.9" cy="785.5" r="4.6" fill="#0E60BE"/>
<circle cx="1538.6" cy="768.7" r="4.6" fill="#E9B514"/>
<circle cx="1550.5" cy="736.2" r="4.6" fill="#797979"/>
<rect x="1308.5" y="530.4" width="283.3" height="378.9" fill="none" stroke="#555" stroke-width="1.25"/>
<path d="M1303.2,547.12h5.3M1303.2,641.41h5.3M1303.2,735.70h5.3M1303.2,829.99h5.3M1361.40,909.3v5.4M1450.10,909.3v5.4M1538.80,909.3v5.4" stroke="#262626" stroke-width="1.8" fill="none"/>
<g font-size="14.6" fill="#4D4D4D" stroke="#4D4D4D" stroke-width="0.3">
<text x="1299.3" y="552.42" text-anchor="end">0.6</text>
<text x="1299.3" y="646.71" text-anchor="end">0.3</text>
<text x="1299.3" y="741.00" text-anchor="end">0.0</text>
<text x="1299.3" y="835.29" text-anchor="end">-0.3</text>
<text x="1361.40" y="929.2" text-anchor="middle">0</text>
<text x="1450.10" y="929.2" text-anchor="middle">1</text>
<text x="1538.80" y="929.2" text-anchor="middle">2</text>
</g>
<text x="1450.1" y="949.9" font-size="18.1" fill="#1a1a1a" stroke="#1a1a1a" stroke-width="0.3" text-anchor="middle">rs139566989 (LIPC)</text>
<text transform="translate(1266.2,719.8) rotate(-90)" font-size="18.1" fill="#1a1a1a" stroke="#1a1a1a" stroke-width="0.3" text-anchor="middle">TG in Very Large HDL (INT)</text>
<text x="1307.7" y="451.0" font-size="21.8" fill="#1a1a1a" stroke="#1a1a1a" stroke-width="0.3">BMI</text>
<path d="M1321.2,488.6h22.6" stroke="#0E60BE" stroke-width="3.3" fill="none"/>
<circle cx="1332.5" cy="488.6" r="4.4" fill="#0E60BE"/>
<text x="1356.1" y="493.9" font-size="14.6" fill="#1a1a1a" stroke="#1a1a1a" stroke-width="0.3">&lt;25.0</text>
<path d="M1405.3,488.6h22.6" stroke="#E9B514" stroke-width="3.3" fill="none"/>
<circle cx="1416.6" cy="488.6" r="4.4" fill="#E9B514"/>
<text x="1440.2" y="493.9" font-size="14.6" fill="#1a1a1a" stroke="#1a1a1a" stroke-width="0.3">25.0-28.6</text>
<path d="M1518.3,488.6h22.6" stroke="#797979" stroke-width="3.3" fill="none"/>
<circle cx="1529.6" cy="488.6" r="4.4" fill="#797979"/>
<text x="1553.2" y="493.9" font-size="14.6" fill="#1a1a1a" stroke="#1a1a1a" stroke-width="0.3">&gt;28.6</text>
<rect x="1665.5" y="530.4" width="283.3" height="378.9" fill="#fff"/>
<path d="M1665.5,594.27h283.3M1665.5,688.56h283.3M1665.5,782.85h283.3M1665.5,877.13h283.3" stroke="#EFEFEF" stroke-width="0.9" fill="none"/>
<path d="M1665.5,547.12h283.3M1665.5,641.41h283.3M1665.5,735.70h283.3M1665.5,829.99h283.3M1718.40,530.4V909.3M1807.10,530.4V909.3M1895.80,530.4V909.3" stroke="#E5E5E5" stroke-width="1.5" fill="none"/>
<path d="M1706.3,562.0V592.9" stroke="#0E60BE" stroke-width="3.6" fill="none"/>
<circle cx="1706.3" cy="577.6" r="4.6" fill="#0E60BE"/>
<path d="M1718.2,548.3V579.7" stroke="#E9B514" stroke-width="3.6" fill="none"/>
<circle cx="1718.2" cy="564.0" r="4.6" fill="#E9B514"/>
<path d="M1730.1,548.9V581.0" stroke="#797979" stroke-width="3.6" fill="none"/>
<circle cx="1730.1" cy="565.0" r="4.6" fill="#797979"/>
<path d="M1795.0,715.9V727.9" stroke="#0E60BE" stroke-width="3.6" fill="none"/>
<circle cx="1795.0" cy="721.9" r="4.6" fill="#0E60BE"/>
<path d="M1806.7,670.9V682.9" stroke="#E9B514" stroke-width="3.6" fill="none"/>
<circle cx="1806.7" cy="676.9" r="4.6" fill="#E9B514"/>
<path d="M1818.6,657.3V669.3" stroke="#797979" stroke-width="3.6" fill="none"/>
<circle cx="1818.6" cy="663.3" r="4.6" fill="#797979"/>
<circle cx="1883.9" cy="809.5" r="4.6" fill="#0E60BE"/>
<circle cx="1895.9" cy="752.6" r="4.6" fill="#E9B514"/>
<circle cx="1907.7" cy="727.8" r="4.6" fill="#797979"/>
<rect x="1665.5" y="530.4" width="283.3" height="378.9" fill="none" stroke="#555" stroke-width="1.25"/>
<path d="M1660.2,547.12h5.3M1660.2,641.41h5.3M1660.2,735.70h5.3M1660.2,829.99h5.3M1718.40,909.3v5.4M1807.10,909.3v5.4M1895.80,909.3v5.4" stroke="#262626" stroke-width="1.8" fill="none"/>
<g font-size="14.6" fill="#4D4D4D" stroke="#4D4D4D" stroke-width="0.3">
<text x="1656.3" y="552.42" text-anchor="end">0.6</text>
<text x="1656.3" y="646.71" text-anchor="end">0.3</text>
<text x="1656.3" y="741.00" text-anchor="end">0.0</text>
<text x="1656.3" y="835.29" text-anchor="end">-0.3</text>
<text x="1718.40" y="929.2" text-anchor="middle">0</text>
<text x="1807.10" y="929.2" text-anchor="middle">1</text>
<text x="1895.80" y="929.2" text-anchor="middle">2</text>
</g>
<text x="1807.1" y="949.9" font-size="18.1" fill="#1a1a1a" stroke="#1a1a1a" stroke-width="0.3" text-anchor="middle">rs139566989 (LIPC)</text>
<text transform="translate(1623.2,719.8) rotate(-90)" font-size="18.1" fill="#1a1a1a" stroke="#1a1a1a" stroke-width="0.3" text-anchor="middle">TG in Very Large HDL (INT)</text>
<text x="1664.7" y="451.0" font-size="21.8" fill="#1a1a1a" stroke="#1a1a1a" stroke-width="0.3">Anthropometric PC2</text>
<path d="M1723.0,488.6h22.6" stroke="#0E60BE" stroke-width="3.3" fill="none"/>
<circle cx="1734.3" cy="488.6" r="4.4" fill="#0E60BE"/>
<text x="1757.9" y="493.9" font-size="14.6" fill="#1a1a1a" stroke="#1a1a1a" stroke-width="0.3">T1</text>
<path d="M1787.3,488.6h22.6" stroke="#E9B514" stroke-width="3.3" fill="none"/>
<circle cx="1798.6" cy="488.6" r="4.4" fill="#E9B514"/>
<text x="1822.2" y="493.9" font-size="14.6" fill="#1a1a1a" stroke="#1a1a1a" stroke-width="0.3">T2</text>
<path d="M1851.0,488.6h22.6" stroke="#797979" stroke-width="3.3" fill="none"/>
<circle cx="1862.3" cy="488.6" r="4.4" fill="#797979"/>
<text x="1885.9" y="493.9" font-size="14.6" fill="#1a1a1a" stroke="#1a1a1a" stroke-width="0.3">T3</text>
</g>
</svg>
</body>
</html>
